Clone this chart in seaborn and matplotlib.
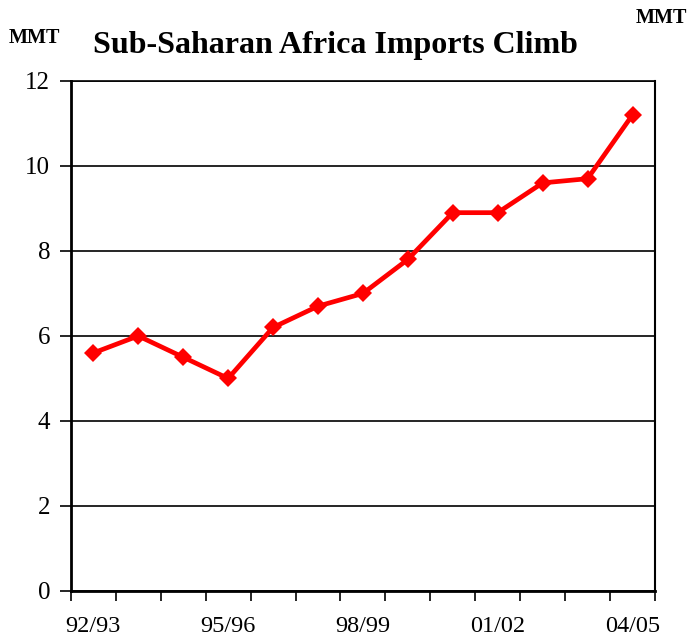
import numpy as np
import pandas as pd
import seaborn as sns
import matplotlib.pyplot as plt
from matplotlib.ticker import FixedLocator

# Sub-Saharan Africa imports, million metric tons, by marketing year
seasons = ["92/93", "93/94", "94/95", "95/96", "96/97", "97/98", "98/99",
           "99/00", "00/01", "01/02", "02/03", "03/04", "04/05"]
imports_mmt = [5.6, 6.0, 5.5, 5.0, 6.2, 6.7, 7.0, 7.8, 8.9, 8.9, 9.6, 9.7, 11.2]
shown_labels = ["92/93", "95/96", "98/99", "01/02", "04/05"]

df = pd.DataFrame({"season": seasons, "imports": imports_mmt})
df["pos"] = np.arange(len(df))

sns.set_style("white")
plt.rcParams["font.family"] = ["Liberation Serif", "DejaVu Serif"]
plt.rcParams["text.color"] = "black"
plt.rcParams["xtick.color"] = "black"
plt.rcParams["ytick.color"] = "black"

fig = plt.figure(figsize=(6.88, 6.4), dpi=100)
ax = fig.add_axes([0.103, 0.0766, 0.849, 0.797])

sns.lineplot(data=df, x="pos", y="imports", ax=ax, color="#ff0000",
             linewidth=3.4, marker="D", markersize=9, markeredgewidth=0,
             zorder=3)

# y axis
ax.set_ylim(0, 12)
ax.set_yticks(np.arange(0, 13, 2))
ax.yaxis.grid(True, color="black", linewidth=1.2)
ax.tick_params(axis="y", direction="out", length=8, width=1.2,
               labelsize=18, pad=7, left=True, labelcolor="black")

# x axis: labels every third season, tick marks between categories
ax.set_xlim(-0.5, len(seasons) - 0.5)
major_pos = [seasons.index(s) for s in shown_labels]
ax.set_xticks(major_pos)
ax.set_xticklabels(shown_labels)
ax.xaxis.set_minor_locator(FixedLocator(np.arange(-0.5, len(seasons), 1)))
ax.tick_params(axis="x", which="major", length=0, labelsize=17.5, pad=18,
               labelcolor="black")
ax.tick_params(axis="x", which="minor", direction="out", length=7,
               width=1.2, bottom=True)

for side in ["left", "right", "top", "bottom"]:
    ax.spines[side].set_visible(True)
    ax.spines[side].set_color("black")
ax.spines["left"].set_linewidth(2)
ax.spines["bottom"].set_linewidth(2)
ax.spines["right"].set_linewidth(1.5)
ax.spines["top"].set_linewidth(1.2)

ax.set_xlabel("")
ax.set_ylabel("")

fig.text(0.488, 0.929, "Sub-Saharan Africa Imports Climb", ha="center",
         va="center", fontsize=23, fontweight="bold", color="black")
fig.text(0.013, 0.94, "MMT", ha="left", va="center", fontsize=14.5,
         fontweight="bold", color="black")
fig.text(0.999, 0.972, "MMT", ha="right", va="center", fontsize=14.5,
         fontweight="bold", color="black")

fig.savefig("out.png", dpi=100)
